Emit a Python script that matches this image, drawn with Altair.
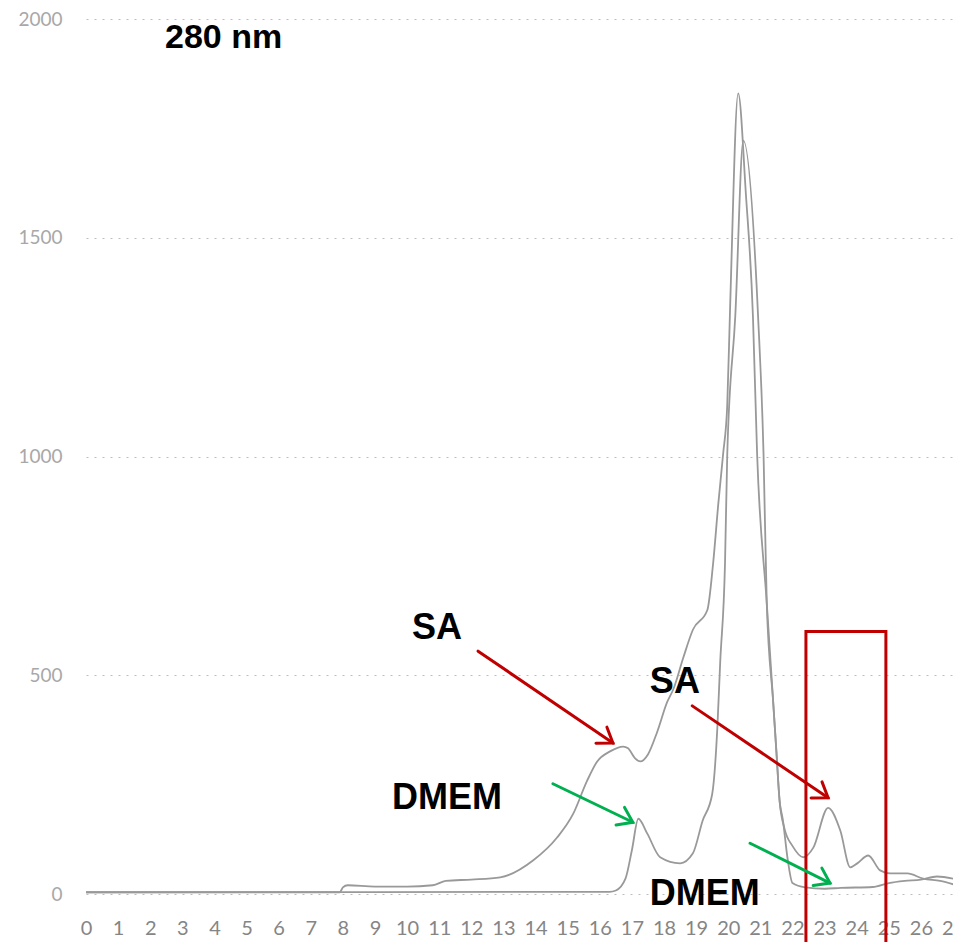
import math
import altair as alt
import pandas as pd

# ---------------- data ----------------
x_ticks = list(range(0, 28))
y_ticks = [0, 500, 1000, 1500, 2000]

sa_x = [0, 7.9, 8.0, 8.15, 9.0, 10.0, 10.8, 11.2, 12.0, 12.9, 13.93, 14.67, 15.17, 15.6,
        15.92, 16.32, 16.73, 16.88, 17.1, 17.26, 17.5, 17.79, 18.1, 18.29, 18.6, 18.9,
        19.35, 19.53, 19.69, 19.84, 19.97, 20.06, 20.31, 20.55, 20.77, 20.9, 21.2, 21.4,
        21.5, 21.6, 21.75, 22.0, 22.34, 22.65, 23.11, 23.49, 23.8, 24.02, 24.36, 24.73,
        25.05, 25.58, 26.07, 26.6, 27.3]
sa_y = [4, 4, 15, 20, 17, 17, 20, 30, 33, 38, 77, 129, 183, 258,
        303, 326, 337, 333, 310, 303, 319, 371, 439, 468, 540, 604,
        649, 756, 891, 1005, 1118, 1344, 1830, 1600, 1320, 1005, 665, 439,
        326, 213, 150, 110, 84, 106, 197, 145, 61, 70, 88, 54,
        47, 47, 35, 30, 15]

dmem_x = [0, 16.3, 16.5, 16.8, 17.0, 17.2, 17.48, 17.88, 18.5, 18.9, 19.2, 19.5, 19.66,
          19.75, 19.9, 19.97, 20.22, 20.47, 20.93, 21.1, 21.2, 21.4, 21.5, 21.6, 21.7,
          21.85, 22.0, 22.4, 23.0, 23.5, 24.5, 25.0, 25.5, 26.0, 26.5, 27.3]
dmem_y = [4, 5, 8, 35, 100, 172, 138, 84, 70, 93, 167, 228, 378,
          529, 756, 1005, 1321, 1722, 1320, 1005, 665, 439, 326, 213, 170,
          80, 25, 15, 12, 14, 16, 25, 30, 33, 40, 30]

label_text = ["280 nm", "SA", "SA", "DMEM", "DMEM"]
label_x = [2.46, 10.15, 17.56, 9.53, 17.56]
label_y = [1934, 582, 459, 195, -25]
label_size = [34, 36, 36, 36, 36]

arrow_x0 = [12.21, 18.88, 14.54, 20.68]
arrow_y0 = [555, 430, 252, 116]
arrow_x1 = [16.41, 23.11, 17.03, 23.17]
arrow_y1 = [345, 220, 164, 25]
arrow_color = ["#C00000", "#C00000", "#00B050", "#00B050"]

box_x = [22.42]
box_x2 = [24.91]
box_y = [600]
box_y2 = [-150]

# ---------------- layout ----------------
W, H = 867, 875
XMAX, YMAX = 27.0, 2000
sx, sy = W / XMAX, H / YMAX

x_scale = alt.Scale(domain=[0, XMAX], nice=False, zero=False)
y_scale = alt.Scale(domain=[0, YMAX], nice=False)

x_axis = alt.Axis(values=x_ticks, labelAngle=0, grid=False, domain=False,
                  ticks=False, labelFlush=False, labelOverlap=False,
                  labelBound=False,
                  labelFont="Lato", labelFontSize=20, labelColor="#858585",
                  labelPadding=24, format="d")
y_axis = alt.Axis(values=y_ticks, grid=True, gridDash=[2, 6],
                  gridColor="#bdbdbd", gridWidth=1.2, domain=False,
                  ticks=False, labelFont="Lato", labelFontSize=19,
                  labelColor="#a8a8a8", labelPadding=24, format="d")


def X():
    return alt.X("x:Q", scale=x_scale, title=None, axis=x_axis)


def Y():
    return alt.Y("y:Q", scale=y_scale, title=None, axis=y_axis)


lines_df = pd.concat([
    pd.DataFrame({"x": sa_x, "y": sa_y, "s": "SA", "i": range(len(sa_x))}),
    pd.DataFrame({"x": dmem_x, "y": dmem_y, "s": "DMEM", "i": range(len(dmem_x))}),
])

curves = alt.Chart(lines_df).mark_line(
    color="#999999", strokeWidth=1.8, interpolate="monotone"
).encode(x=X(), y=Y(), detail="s:N", order="i:Q")

# arrows (shaft + open head)
rows = []
L, ang = 17, math.radians(35)
for k in range(len(arrow_x0)):
    x0, y0, x1, y1 = arrow_x0[k], arrow_y0[k], arrow_x1[k], arrow_y1[k]
    c = arrow_color[k]
    rows.append({"x": x0, "y": y0, "g": f"s{k}", "i": 0, "c": c})
    rows.append({"x": x1, "y": y1, "g": f"s{k}", "i": 1, "c": c})
    dx, dy = (x1 - x0) * sx, -(y1 - y0) * sy
    th = math.atan2(dy, dx) + math.pi
    pts = []
    for a in (th + ang, th - ang):
        pts.append((x1 + L * math.cos(a) / sx, y1 - L * math.sin(a) / sy))
    rows.append({"x": pts[0][0], "y": pts[0][1], "g": f"h{k}", "i": 0, "c": c})
    rows.append({"x": x1, "y": y1, "g": f"h{k}", "i": 1, "c": c})
    rows.append({"x": pts[1][0], "y": pts[1][1], "g": f"h{k}", "i": 2, "c": c})
arrows_df = pd.DataFrame(rows)

arrows = alt.Chart(arrows_df).mark_line(strokeWidth=3, strokeCap="round", strokeJoin="miter").encode(
    x=X(), y=Y(),
    detail="g:N", order="i:Q",
    color=alt.Color("c:N", scale=None),
)

box_df = pd.DataFrame({"x": box_x, "x2": box_x2, "y": box_y, "y2": box_y2})
box = alt.Chart(box_df).mark_rect(fill=None, stroke="#C00000", strokeWidth=3).encode(
    x=X(), x2="x2:Q", y=Y(), y2="y2:Q",
)

labels_df = pd.DataFrame({"t": label_text, "x": label_x, "y": label_y, "fs": label_size})
labels = alt.Chart(labels_df).mark_text(
    align="left", baseline="alphabetic", font="Liberation Sans", fontWeight="bold",
    color="#000000"
).encode(
    x=X(), y=Y(),
    text="t:N",
    size=alt.Size("fs:Q", scale=None),
)

chart = alt.layer(curves, box, arrows, labels).properties(
    width=W, height=H,
    autosize=alt.AutoSizeParams(type="none"),
    padding={"left": 78, "top": 11, "right": 0, "bottom": 48},
    background="white",
).configure_view(stroke=None)

chart.save("out.html", embed_options={"renderer": "svg", "actions": False})
